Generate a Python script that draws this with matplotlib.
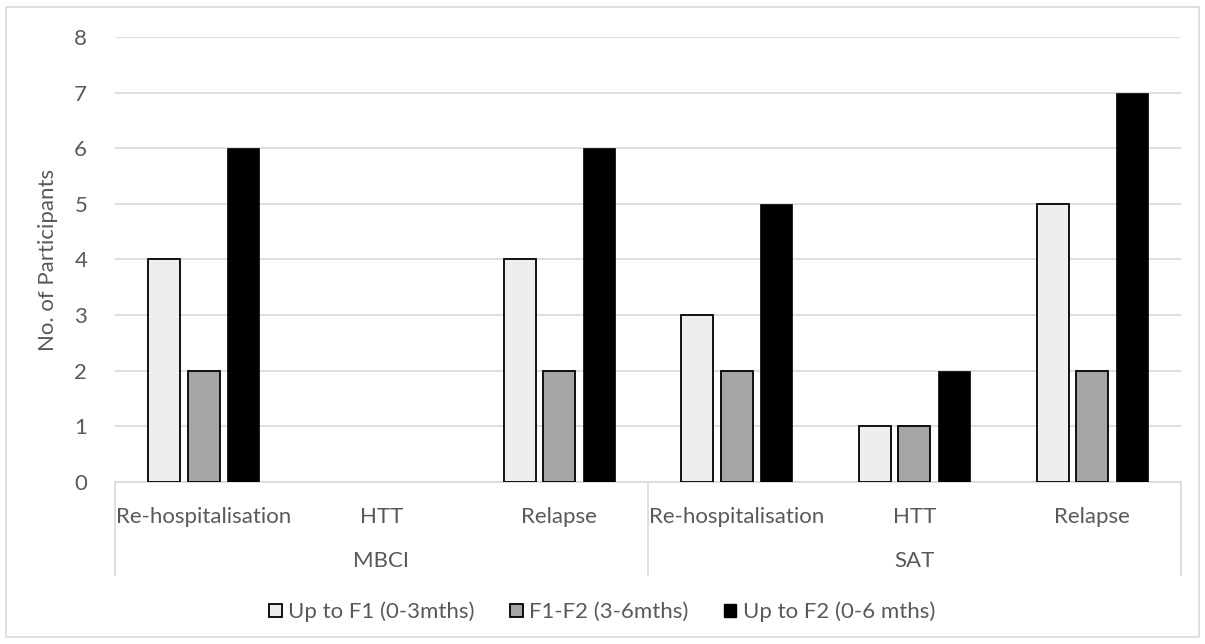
import numpy as np
import matplotlib.pyplot as plt
from matplotlib.patches import Rectangle, Patch

plt.rcParams['font.family'] = ['Lato', 'DejaVu Sans']

categories = ['Re-hospitalisation', 'HTT', 'Relapse', 'Re-hospitalisation', 'HTT', 'Relapse']
groups = ['MBCI', 'SAT']
series_names = ['Up to F1 (0-3mths)', 'F1-F2 (3-6mths)', 'Up to F2 (0-6 mths)']
up_to_f1 = [4, 0, 4, 3, 1, 5]
f1_f2 = [2, 0, 2, 2, 1, 2]
up_to_f2 = [6, 0, 6, 5, 2, 7]

txt = '#595959'
grid_c = '#d9d9d9'
fs = 16

fig = plt.figure(figsize=(12.05, 6.44), dpi=100)
ax = fig.add_axes([0.0954, 0.2516, 0.8846, 0.6909])

# outer chart border
fig.patches.append(Rectangle((0.005, 0.011), 0.99, 0.978, transform=fig.transFigure,
                             fill=False, edgecolor=grid_c, linewidth=1.2))

x = np.arange(len(categories))
w = 0.18
step = 0.222


def draw(vals, offset, face, lw):
    # zero-height bars get no outline, like in Excel
    widths = [lw if v > 0 else 0 for v in vals]
    ax.bar(x + offset, vals, w, color=face, edgecolor='black', linewidth=widths, zorder=3)


draw(up_to_f1, -step, '#eeeeee', 1.3)
draw(f1_f2, 0, '#a5a5a5', 1.3)
draw(up_to_f2, step, 'black', 0.5)

ax.set_xlim(-0.5, len(categories) - 0.5)
ax.set_ylim(0, 8)
ax.set_yticks(range(0, 9))
ax.yaxis.grid(True, color=grid_c, linewidth=1.2)
ax.set_axisbelow(True)
for s in ['top', 'right', 'left']:
    ax.spines[s].set_visible(False)
ax.spines['bottom'].set_color(grid_c)
ax.spines['bottom'].set_linewidth(1.2)
ax.tick_params(axis='y', length=0, pad=20, labelsize=fs, labelcolor=txt)
ax.set_xticks(x)
ax.set_xticklabels(categories)
ax.tick_params(axis='x', length=0, pad=18, labelsize=fs, labelcolor=txt)
ax.set_ylabel('No. of Participants', fontsize=fs, color=txt, labelpad=12)

# second level of the category axis
trans = ax.get_xaxis_transform()
for xs in [-0.5, 2.5, 5.5]:
    ax.plot([xs, xs], [0, -0.209], transform=trans, color=grid_c, linewidth=1.2, clip_on=False)
for i, g in enumerate(groups):
    ax.text(1 + 3 * i, -0.178, g, transform=trans, ha='center', va='center',
            fontsize=fs, color=txt)

handles = [Patch(facecolor='#eeeeee', edgecolor='black', linewidth=1.3),
           Patch(facecolor='#a5a5a5', edgecolor='black', linewidth=1.3),
           Patch(facecolor='black', edgecolor='black')]
fig.legend(handles, series_names, loc='center', bbox_to_anchor=(0.5, 0.05), ncol=3,
           frameon=False, fontsize=fs, labelcolor=txt, handlelength=0.55, handleheight=0.55,
           handletextpad=0.3, columnspacing=1.6)

fig.savefig('out.png', dpi=100)
